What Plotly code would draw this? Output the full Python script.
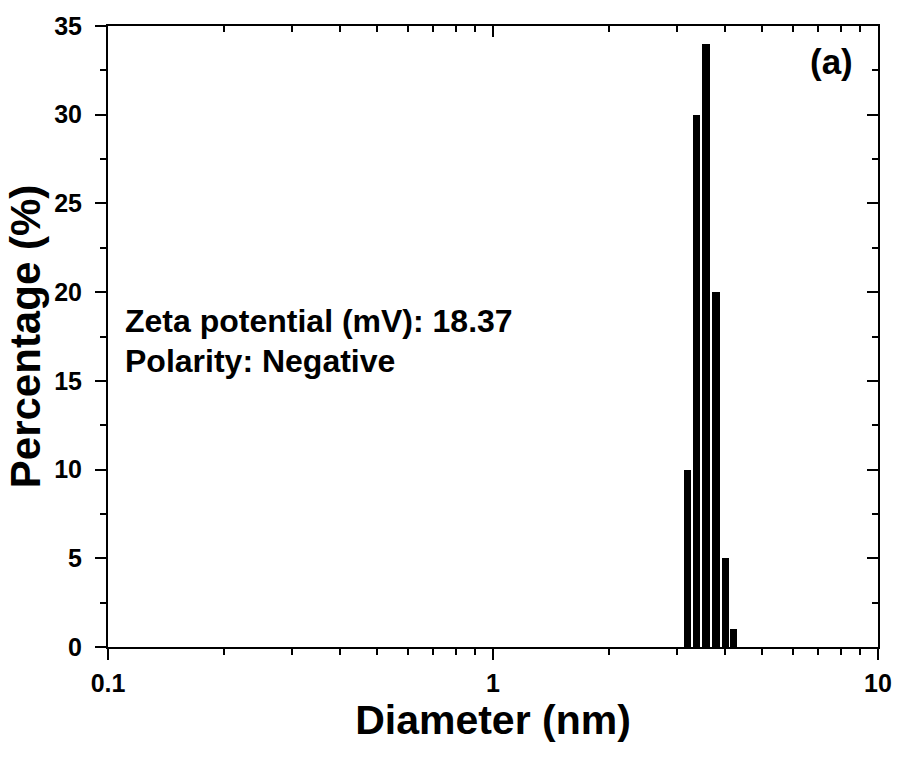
import plotly.graph_objects as go

diameter_nm = [3.20, 3.38, 3.58, 3.80, 4.02, 4.22]
percentage = [10, 30, 34, 20, 5, 1]
x_tick_vals = [0.1, 1, 10]
x_tick_text = ["0.1", "1", "10"]
x_minor_vals = [0.2, 0.3, 0.4, 0.5, 0.6, 0.7, 0.8, 0.9, 2, 3, 4, 5, 6, 7, 8, 9]
y_tick_vals = [0, 5, 10, 15, 20, 25, 30, 35]
y_minor_vals = [2.5, 7.5, 12.5, 17.5, 22.5, 27.5, 32.5]

FONT = "Liberation Sans, Arial, sans-serif"
bar_widths = [d * 0.045 for d in diameter_nm]

fig = go.Figure()
fig.add_trace(go.Bar(
    x=diameter_nm, y=percentage, width=bar_widths,
    marker=dict(color="black", line=dict(width=0)),
    showlegend=False,
))
# invisible trace for mirrored axes
fig.add_trace(go.Scatter(x=[1], y=[0], xaxis="x2", yaxis="y2", mode="markers",
                         marker=dict(opacity=0), showlegend=False, hoverinfo="skip"))

axis_common = dict(showgrid=False, zeroline=False, showline=True, linecolor="black",
                   linewidth=2, tickcolor="black", tickwidth=2)

fig.update_layout(
    width=904, height=759,
    margin=dict(l=108, r=20, t=22, b=112),
    plot_bgcolor="white", paper_bgcolor="white",
    font=dict(family=FONT, color="black", size=25, weight="bold"),
    bargap=0,
    xaxis=dict(
        type="log", range=[-1, 1], tickmode="array", tickvals=x_tick_vals, ticktext=x_tick_text,
        ticks="outside", ticklen=11, ticklabelstandoff=2,
        minor=dict(tickmode="array", tickvals=x_minor_vals, ticks="outside", ticklen=6,
                   tickcolor="black", tickwidth=2, showgrid=False),
        tickfont=dict(size=25, family=FONT, weight="bold"),
        title=dict(text="Diameter (nm)", font=dict(size=41, family=FONT, weight="bold"), standoff=5),
        **axis_common,
    ),
    yaxis=dict(
        range=[0, 35], tickmode="array", tickvals=y_tick_vals,
        ticks="outside", ticklen=11, ticklabelstandoff=8,
        minor=dict(tickmode="array", tickvals=y_minor_vals, ticks="outside", ticklen=6,
                   tickcolor="black", tickwidth=2, showgrid=False),
        tickfont=dict(size=25, family=FONT, weight="bold"),
        title=dict(text="Percentage (%)", font=dict(size=42, family=FONT, weight="bold"), standoff=0),
        **axis_common,
    ),
    xaxis2=dict(
        type="log", range=[-1, 1], overlaying="x", side="top", anchor="y",
        tickmode="array", tickvals=x_tick_vals, showticklabels=False,
        ticks="inside", ticklen=11,
        minor=dict(tickmode="array", tickvals=x_minor_vals, ticks="inside", ticklen=6,
                   tickcolor="black", tickwidth=2, showgrid=False),
        **axis_common,
    ),
    yaxis2=dict(
        range=[0, 35], overlaying="y", side="right", anchor="x",
        tickmode="array", tickvals=y_tick_vals, showticklabels=False,
        ticks="inside", ticklen=11,
        minor=dict(tickmode="array", tickvals=y_minor_vals, ticks="inside", ticklen=6,
                   tickcolor="black", tickwidth=2, showgrid=False),
        **axis_common,
    ),
    annotations=[
        dict(text="Zeta potential (mV): 18.37", xref="paper", yref="paper", x=0.019, y=0.525,
             xanchor="left", yanchor="middle", showarrow=False,
             font=dict(size=32, family=FONT, weight="bold")),
        dict(text="Polarity: Negative", xref="paper", yref="paper", x=0.019, y=0.46,
             xanchor="left", yanchor="middle", showarrow=False,
             font=dict(size=32, family=FONT, weight="bold")),
        dict(text="(a)", xref="paper", yref="paper", x=0.94, y=0.943,
             xanchor="center", yanchor="middle", showarrow=False,
             font=dict(size=35, family=FONT, weight="bold")),
    ],
)

fig.write_html("out.html")
